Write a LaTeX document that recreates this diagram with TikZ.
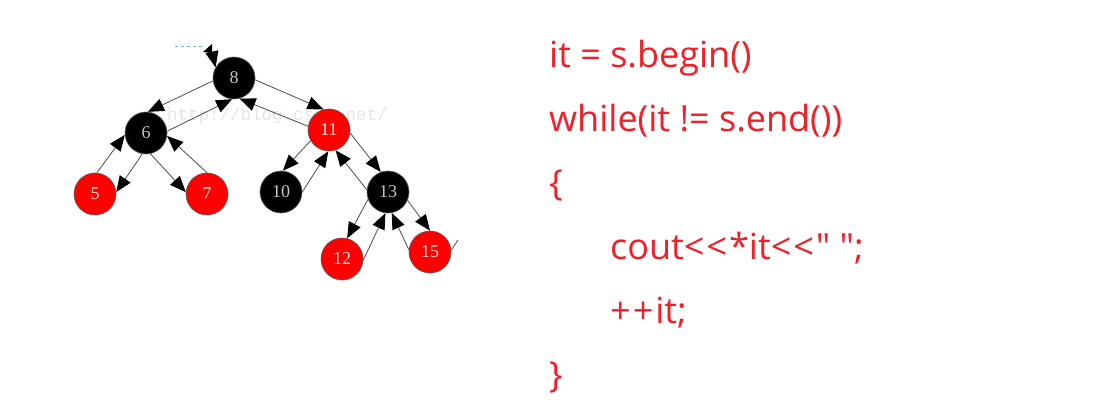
\documentclass[tikz,border=0pt]{standalone}
\usepackage{fontspec}
\setmainfont{Liberation Serif}
\newfontfamily\codefont{Open Sans}
\newfontfamily\wmfont{Liberation Mono}
\usetikzlibrary{arrows.meta,positioning,calc}
\definecolor{nodered}{RGB}{255,0,0}
\definecolor{codered}{RGB}{242,30,40}
\definecolor{hdrblue}{RGB}{100,190,235}
\newcommand{\lsp}{\hspace{2pt}}

\begin{document}
\begin{tikzpicture}[
    x=1pt, y=-1pt,
    >={Triangle[length=16pt,width=13pt,color=black]},
    line join=round,
    rbnode/.style={
        circle,
        draw=gray!70!black,
        line width=0.6pt,
        minimum size=42pt,
        inner sep=0pt,
        font=\fontsize{18}{18}\selectfont
    },
    blacknode/.style={rbnode, fill=black, text=gray!45},
    rednode/.style={rbnode, fill=nodered, text=white!92!red},
    link/.style={->, draw=gray!60!black, line width=0.8pt},
    code/.style={anchor=base west, inner sep=0pt, text=codered, font=\codefont\fontsize{36}{36}\selectfont},
    watermark/.style={anchor=base west, inner sep=0pt, text=gray!20, font=\wmfont\fontsize{17.5}{17.5}\selectfont}
]

\useasboundingbox (0,0) rectangle (1111,420);

% =========================
% Watermark
% =========================
\node[watermark] (wm) at (167,121) {http://blog.csdn.net/};

% =========================
% Tree nodes
% =========================
\node[blacknode] (n8)  at (234,78)  {8};
\node[blacknode] (n6)  at (146,133) {6};
\node[rednode]   (n11) at (329,130) {11};
\node[rednode]   (n5)  at (95,194)  {5};
\node[rednode]   (n7)  at (207,194) {7};
\node[blacknode] (n10) at (281,192) {10};
\node[blacknode] (n13) at (388,192) {13};
\node[rednode]   (n12) at (342,259) {12};
\node[rednode]   (n15) at (430,252) {15};

% =========================
% Parent -> child
% =========================
\draw[link] (n8.188)  -- (n6.85);
\draw[link] (n8.355)  -- (n11.105);
\draw[link] (n6.260)  -- (n5.5);
\draw[link] (n6.282)  -- (n7.175);
\draw[link] (n11.210) -- (n10.85);
\draw[link] (n11.352) -- (n13.110);
\draw[link] (n13.200) -- (n12.76);
\draw[link] (n13.337) -- (n15.90);

% =========================
% Child -> parent
% =========================
\draw[link] (n6.5)    -- (n8.265);
\draw[link] (n11.170) -- (n8.285);
\draw[link] (n5.85)   -- (n6.185);
\draw[link] (n7.90)   -- (n6.352);
\draw[link] (n10.0)   -- (n11.268);
\draw[link] (n13.174) -- (n11.288);
\draw[link] (n12.357) -- (n13.263);
\draw[link] (n15.174) -- (n13.280);

% cut-off edge right of 15
\coordinate (stub) at (458,240);
\draw[link, -] (n15.5) -- (stub);

% =========================
% Header pointer into the root
% =========================
\coordinate (hdrA) at (175,46);
\coordinate (hdrB) at (205,46);
\coordinate (hdrC) at (212,52);
\draw[hdrblue, dashed, line width=0.8pt] (hdrA) -- (hdrB);
\fill (203,52) -- (212,44) -- (212,53) -- cycle;
\draw[link, draw=black] (hdrC) -- (n8.150);

% =========================
% Code
% =========================
\node[code] (l1) at (549,67)  {it = s.begin()};
\node[code] (l2) at (549,131) {while(it != s.end())};
\node[code] (l3) at (549,195) {\{};
\node[code] (l4) at (610,259) {cout<\lsp<\lsp*it<\lsp<\lsp" ";};
\node[code] (l5) at (610,323) {+\lsp+\lsp it;};
\node[code] (l6) at (549,387) {\}};

\end{tikzpicture}
\end{document}
